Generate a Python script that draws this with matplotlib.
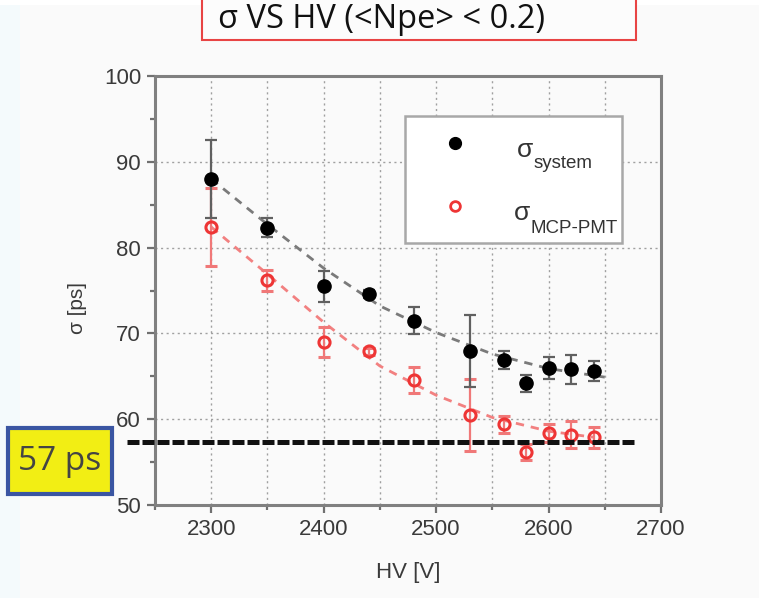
import numpy as np
import matplotlib
matplotlib.use('Agg')
import matplotlib.pyplot as plt
from matplotlib.patches import Rectangle
from matplotlib.lines import Line2D

# measured points (HV in V, sigma in ps)
hv = [2300, 2350, 2400, 2440, 2480, 2530, 2560, 2580, 2600, 2620, 2640]
sig_system = [88.0, 82.3, 75.5, 74.6, 71.5, 67.9, 66.9, 64.2, 66.0, 65.8, 65.6]
err_system = [4.5, 1.1, 1.8, 0.5, 1.6, 4.2, 1.0, 1.0, 1.3, 1.7, 1.2]
sig_pmt = [82.4, 76.2, 69.0, 67.9, 64.6, 60.5, 59.4, 56.2, 58.4, 58.2, 57.9]
err_pmt = [4.6, 1.2, 1.8, 0.4, 1.5, 4.2, 1.0, 0.9, 1.0, 1.6, 1.2]

# dashed fit curves
fit_hv_system = [2300, 2350, 2400, 2450, 2500, 2550, 2600, 2650]
fit_system = [88.0, 82.7, 77.6, 73.2, 70.1, 67.6, 65.9, 64.9]
fit_hv_pmt = [2300, 2350, 2400, 2450, 2500, 2550, 2600, 2640]
fit_pmt = [82.4, 76.9, 71.3, 66.2, 62.8, 60.2, 58.6, 57.9]

target_ps = 57.4
target_label = '57 ps'
title = 'σ VS HV (<Npe> < 0.2)'

W, H = 759, 598


def px(x, y):
    # image pixel -> figure fraction
    return x / W, 1 - y / H


plt.rcParams['font.family'] = ['Liberation Sans', 'DejaVu Sans']
fig = plt.figure(figsize=(W / 100, H / 100), dpi=100, facecolor='#fafafa')

# background strips of the pasted slide
fig.patches.append(Rectangle((0, 0), 20 / W, 1, transform=fig.transFigure,
                             facecolor='#f4fafc', edgecolor='none', zorder=0))
fig.patches.append(Rectangle(px(0, 5), 1, 5 / H, transform=fig.transFigure,
                             facecolor='#ffffff', edgecolor='none', zorder=0))

ax = fig.add_axes([155 / W, 1 - 505 / H, 506 / W, 429 / H])
ax.set_facecolor('#fafafa')
ax.set_xlim(2250, 2700)
ax.set_ylim(50, 100)
ax.set_xticks(np.arange(2300, 2701, 100))
ax.set_xticks(np.arange(2250, 2701, 50), minor=True)
ax.set_yticks(np.arange(50, 101, 10))
ax.set_yticks(np.arange(55, 100, 10), minor=True)

for s in ax.spines.values():
    s.set_color('#808080')
    s.set_linewidth(2.2)
ax.tick_params(which='major', direction='out', length=6, width=1.6, color='#707070',
               labelsize=16, labelcolor='#3a3a3a', pad=4, top=False, right=False)
ax.tick_params(which='minor', direction='out', length=3.5, width=1.6, color='#707070',
               top=False, right=False)
ax.grid(True, which='both', axis='x', color='#a0a0a0', lw=1.0, ls=(0, (1.5, 2.5)))
ax.grid(True, which='major', axis='y', color='#a0a0a0', lw=1.0, ls=(0, (1.5, 2.5)))
ax.set_axisbelow(True)

ax.set_xlabel('HV [V]', fontsize=16, color='#3a3a3a', labelpad=16)
ax.set_ylabel('σ [ps]', fontsize=15, color='#3a3a3a')
ax.yaxis.set_label_coords(-0.135, 0.46)

# fit curves
ax.plot(fit_hv_system, fit_system, color='#7a7a7a', lw=2, dashes=(3, 2.5), zorder=2)
ax.plot(fit_hv_pmt, fit_pmt, color='#f28080', lw=2, dashes=(3, 2.5), zorder=2)

# data with error bars
ax.errorbar(hv, sig_system, yerr=err_system, fmt='o', color='black', ms=9.5,
            ecolor='#606060', elinewidth=1.6, capsize=4, capthick=1.6, zorder=4)
ax.errorbar(hv, sig_pmt, yerr=err_pmt, fmt='o', mfc='none', mec='#ee3535', mew=2.2,
            ms=8, ecolor='#f07878', elinewidth=1.6, capsize=4, capthick=1.6, zorder=3)

# legend drawn by hand to match the boxed layout
lx0, ly0 = px(405, 243)
lx1, ly1 = px(622, 116)
fig.patches.append(Rectangle((lx0, ly0), lx1 - lx0, ly1 - ly0, transform=fig.transFigure,
                             facecolor='white', edgecolor='#a8a8a8', lw=1.8, zorder=5))
fig.lines.append(Line2D(*zip(px(455, 143)), marker='o', ms=8.5, color='black', ls='none',
                        transform=fig.transFigure, zorder=6))
fig.lines.append(Line2D(*zip(px(455, 206)), marker='o', ms=7, mfc='none', mec='#ee3535',
                        mew=2, ls='none', transform=fig.transFigure, zorder=6))
fig.text(*px(517, 157), 'σ', fontsize=19, color='#333333', va='baseline', zorder=6)
fig.text(*px(534, 168), 'system', fontsize=13.5, color='#333333', va='baseline', zorder=6)
fig.text(*px(514, 220), 'σ', fontsize=19, color='#333333', va='baseline', zorder=6)
fig.text(*px(531, 233), 'MCP-PMT', fontsize=13.5, color='#333333', va='baseline', zorder=6)

# 57 ps reference line and label
x0, y0 = px(127, 441.5)
x1, _ = px(635, 441.5)
fig.lines.append(Line2D([x0, x1], [y0, y0], color='#111111', lw=3.6, dashes=(2.4, 0.6),
                        transform=fig.transFigure, zorder=7))
bx0, by0 = px(8, 494)
bx1, by1 = px(112, 428)
fig.patches.append(Rectangle((bx0, by0), bx1 - bx0, by1 - by0, transform=fig.transFigure,
                             facecolor='#f2ee14', edgecolor='#3a55a2', lw=3, zorder=8))
fig.text(*px(60, 461), target_label, fontsize=24, color='#444444', ha='center', va='center',
         family=['Open Sans', 'DejaVu Sans'], zorder=9)

# title box running off the top edge
tx0, ty0 = px(202, 40)
tx1, _ = px(636, 40)
fig.patches.append(Rectangle((tx0, ty0), tx1 - tx0, 0.2, transform=fig.transFigure,
                             facecolor='#fcfcfc', edgecolor='#e84444', lw=1.5, zorder=5,
                             clip_on=False))
fig.text(*px(381, 28), title, fontsize=23.5, color='#111111', ha='center', va='baseline',
         family=['Open Sans', 'DejaVu Sans'], zorder=6)

fig.savefig('out.png', dpi=100, facecolor=fig.get_facecolor())
